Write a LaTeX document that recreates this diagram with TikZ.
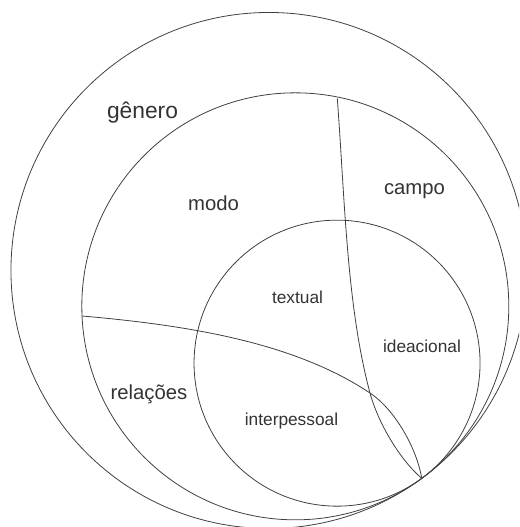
\documentclass[tikz,border=0pt]{standalone}
\usepackage{fontspec}
\setmainfont{Liberation Sans}
\tikzset{
  ring/.style={draw=black!75, line width=0.8pt},
  lab/.style={text=black!80, anchor=base, inner sep=0pt},
  big/.style={lab, font=\fontsize{20.3}{24}\selectfont},
  small/.style={lab, font=\fontsize{17.3}{21}\selectfont}
}
\begin{document}
\begin{tikzpicture}[x=1pt,y=1pt]
\clip (0,0) rectangle (519,527);
\coordinate (T) at (421.7,48.6);
\coordinate (X) at (370,134);
\path (T) ++(126.3:258) coordinate (cgen);
\path (T) ++(126.3:213.5) coordinate (cmid);
\path (T) ++(126.3:143) coordinate (cin);
\draw[ring] (cgen) circle[radius=258];
\draw[ring] (cmid) circle[radius=213.5];
\draw[ring] (cin) circle[radius=143];
% campo / modo
\draw[ring] (337.3,428.5) .. controls (344.8,328.8) and (346.6,220.9) .. (X)
  .. controls (377.8,105) and (399,68.3) .. (T);
% relacoes
\draw[ring] (82.2,211) .. controls (191.8,201.4) and (295.1,183.9) .. (X)
  .. controls (395,117.4) and (417,78.2) .. (T);
\node[lab, font=\fontsize{22.8}{27}\selectfont] (genero) at (142.5,408) {gênero};
\node[big] (modo) at (213.5,316) {modo};
\node[big] (campo) at (414.5,332) {campo};
\node[big] (relacoes) at (149,127) {relações};
\node[small] (textual) at (297.5,223.7) {textual};
\node[small] (ideacional) at (422,174.3) {ideacional};
\node[small] (interpessoal) at (291.5,101) {interpessoal};
\end{tikzpicture}
\end{document}
